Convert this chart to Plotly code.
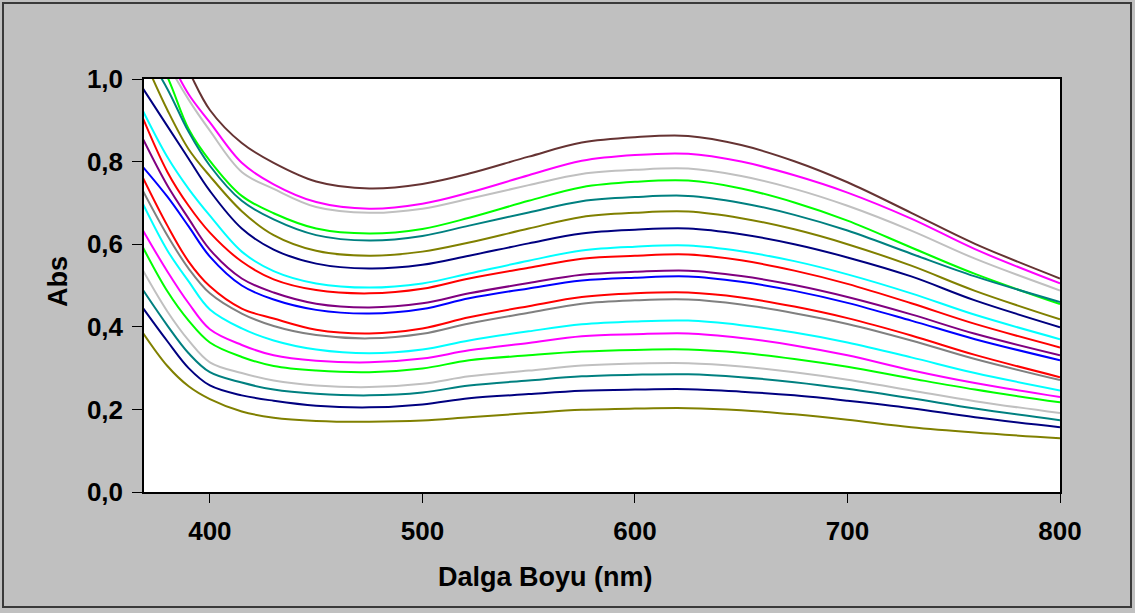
import plotly.graph_objects as go

wavelength = [368, 380, 390, 400, 415, 430, 450, 475, 500, 522, 550, 575, 600, 625, 650, 675, 700, 730, 760, 800]

s01_brown   = [1.25, 1.12, 1.02, 0.925, 0.845, 0.797, 0.752, 0.735, 0.746, 0.771, 0.812, 0.846, 0.859, 0.862, 0.840, 0.801, 0.750, 0.676, 0.601, 0.517]
s02_magenta = [1.20, 1.06, 0.963, 0.895, 0.797, 0.745, 0.702, 0.686, 0.698, 0.725, 0.767, 0.802, 0.816, 0.819, 0.800, 0.767, 0.725, 0.662, 0.588, 0.505]
s03_lgray   = [1.18, 1.04, 0.950, 0.875, 0.775, 0.734, 0.690, 0.676, 0.686, 0.710, 0.743, 0.770, 0.780, 0.783, 0.765, 0.734, 0.693, 0.633, 0.565, 0.488]
s04_green   = [1.12, 1.005, 0.879, 0.802, 0.717, 0.675, 0.638, 0.626, 0.637, 0.664, 0.705, 0.738, 0.751, 0.754, 0.735, 0.701, 0.657, 0.592, 0.528, 0.455]
s05_teal    = [1.08, 0.976, 0.872, 0.790, 0.705, 0.660, 0.622, 0.609, 0.620, 0.645, 0.677, 0.704, 0.714, 0.717, 0.700, 0.671, 0.633, 0.577, 0.522, 0.460]
s06_olive   = [1.06, 0.925, 0.830, 0.765, 0.680, 0.622, 0.584, 0.572, 0.582, 0.604, 0.638, 0.666, 0.676, 0.679, 0.663, 0.636, 0.600, 0.548, 0.487, 0.418]
s07_navy    = [0.981, 0.886, 0.807, 0.729, 0.638, 0.587, 0.553, 0.541, 0.550, 0.572, 0.602, 0.626, 0.635, 0.638, 0.624, 0.600, 0.568, 0.522, 0.464, 0.399]
s08_cyan    = [0.928, 0.811, 0.734, 0.669, 0.582, 0.535, 0.505, 0.495, 0.505, 0.529, 0.560, 0.585, 0.594, 0.597, 0.583, 0.559, 0.527, 0.481, 0.429, 0.370]
s09_red     = [0.911, 0.775, 0.693, 0.628, 0.558, 0.515, 0.489, 0.481, 0.492, 0.517, 0.543, 0.565, 0.572, 0.575, 0.561, 0.536, 0.504, 0.457, 0.407, 0.350]
s10_purple  = [0.860, 0.742, 0.662, 0.587, 0.517, 0.483, 0.456, 0.447, 0.457, 0.481, 0.506, 0.526, 0.533, 0.536, 0.523, 0.501, 0.472, 0.430, 0.383, 0.331]
s11_blue    = [0.790, 0.715, 0.643, 0.570, 0.500, 0.466, 0.441, 0.432, 0.443, 0.469, 0.493, 0.512, 0.519, 0.522, 0.509, 0.487, 0.458, 0.415, 0.370, 0.319]
s12_red     = [0.766, 0.645, 0.558, 0.498, 0.444, 0.420, 0.393, 0.384, 0.396, 0.423, 0.450, 0.472, 0.481, 0.483, 0.471, 0.449, 0.421, 0.379, 0.332, 0.278]
s13_gray    = [0.734, 0.621, 0.541, 0.481, 0.432, 0.402, 0.380, 0.372, 0.383, 0.408, 0.434, 0.456, 0.464, 0.466, 0.454, 0.433, 0.407, 0.367, 0.322, 0.271]
s14_cyan    = [0.703, 0.585, 0.510, 0.442, 0.396, 0.367, 0.345, 0.336, 0.345, 0.367, 0.389, 0.406, 0.413, 0.415, 0.404, 0.386, 0.362, 0.326, 0.288, 0.246]
s15_magenta = [0.638, 0.534, 0.457, 0.394, 0.356, 0.331, 0.318, 0.314, 0.323, 0.343, 0.361, 0.377, 0.382, 0.384, 0.373, 0.355, 0.331, 0.295, 0.264, 0.230]
s16_green   = [0.597, 0.486, 0.415, 0.362, 0.327, 0.305, 0.294, 0.290, 0.299, 0.319, 0.331, 0.340, 0.344, 0.345, 0.337, 0.322, 0.303, 0.275, 0.248, 0.217]
s17_lgray   = [0.541, 0.437, 0.367, 0.314, 0.288, 0.270, 0.258, 0.254, 0.262, 0.280, 0.294, 0.306, 0.311, 0.312, 0.304, 0.290, 0.272, 0.246, 0.220, 0.191]
s18_teal    = [0.493, 0.403, 0.336, 0.290, 0.265, 0.248, 0.238, 0.234, 0.241, 0.258, 0.270, 0.280, 0.284, 0.285, 0.278, 0.266, 0.250, 0.227, 0.202, 0.174]
s19_navy    = [0.449, 0.365, 0.300, 0.258, 0.234, 0.221, 0.209, 0.205, 0.212, 0.227, 0.237, 0.245, 0.248, 0.249, 0.243, 0.234, 0.221, 0.203, 0.181, 0.157]
s20_olive   = [0.389, 0.305, 0.256, 0.225, 0.195, 0.180, 0.172, 0.170, 0.173, 0.181, 0.191, 0.199, 0.202, 0.203, 0.198, 0.188, 0.175, 0.157, 0.144, 0.130]

series = [s01_brown, s02_magenta, s03_lgray, s04_green, s05_teal, s06_olive, s07_navy,
          s08_cyan, s09_red, s10_purple, s11_blue, s12_red, s13_gray, s14_cyan,
          s15_magenta, s16_green, s17_lgray, s18_teal, s19_navy, s20_olive]
colors = ["#663333", "#FF00FF", "#C0C0C0", "#00FF00", "#008080", "#808000", "#000080",
          "#00FFFF", "#FF0000", "#800080", "#0000FF", "#FF0000", "#808080", "#00FFFF",
          "#FF00FF", "#00FF00", "#C0C0C0", "#008080", "#000080", "#808000"]

y_ticks = [0.0, 0.2, 0.4, 0.6, 0.8, 1.0]
x_ticks = [400, 500, 600, 700, 800]

fig = go.Figure()
for ys, c in zip(series, colors):
    fig.add_trace(go.Scatter(x=wavelength, y=ys, mode="lines",
                             line=dict(color=c, width=2, shape="spline", smoothing=1.0),
                             showlegend=False, hoverinfo="skip"))

W, H = 1135, 613
L, R, T, B = 144, 75, 79, 121
pw, ph = W - L - R, H - T - B

def px(xp):
    return (xp - L) / pw

def py(yp):
    return (H - B - yp) / ph

tick_font = dict(family="Arial, Liberation Sans, sans-serif", size=26, color="#000000", weight="bold")
title_font = dict(family="Arial, Liberation Sans, sans-serif", size=27, color="#000000", weight="bold")

fig.update_layout(
    width=W, height=H,
    margin=dict(l=L, r=R, t=T, b=B, pad=0),
    paper_bgcolor="#C0C0C0",
    plot_bgcolor="#FFFFFF",
    separators=",.",
    font=tick_font,
    xaxis=dict(range=[369, 800], tickvals=x_ticks, ticks="outside", ticklen=9, tickwidth=1,
               tickcolor="#000000", showline=True, linecolor="#000000", linewidth=1.5,
               mirror=True, showgrid=False, zeroline=False, ticklabelstandoff=6,
               tickfont=tick_font),
    yaxis=dict(range=[0, 1.0], tickvals=y_ticks, tickformat=".1f", ticks="outside",
               ticklen=10, tickwidth=1, tickcolor="#000000", showline=True,
               linecolor="#000000", linewidth=1.5, mirror=True, showgrid=False,
               zeroline=False, ticklabelstandoff=4, tickfont=tick_font),
    shapes=[dict(type="rect", xref="paper", yref="paper",
                 x0=px(3), x1=px(1131), y0=py(607), y1=py(3),
                 line=dict(color="#3A3A3A", width=2), fillcolor="rgba(0,0,0,0)")],
    annotations=[
        dict(text="Dalga Boyu (nm)", xref="paper", yref="paper", x=px(545), y=py(577),
             showarrow=False, xanchor="center", yanchor="middle", font=title_font),
        dict(text="Abs", xref="paper", yref="paper", x=px(58), y=py(282), textangle=-90,
             showarrow=False, xanchor="center", yanchor="middle", font=title_font),
    ],
)

fig.write_html("out.html")
